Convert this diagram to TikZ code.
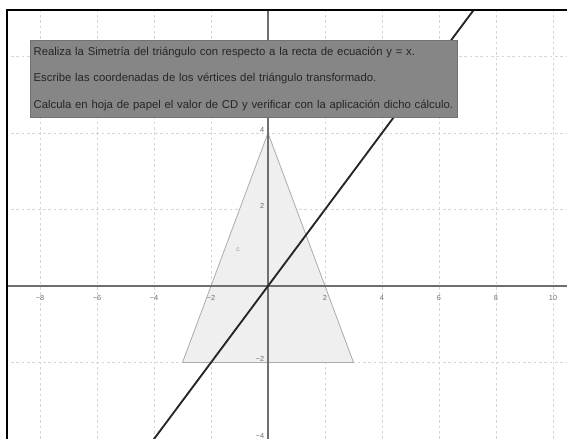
\documentclass[tikz,border=0pt]{standalone}
\usepackage{fontspec}
\setmainfont{Liberation Sans}
\usetikzlibrary{positioning,calc}
\definecolor{ink}{HTML}{262626}
\definecolor{gridgray}{HTML}{D6D6D6}
\definecolor{axisgray}{HTML}{6F6F6F}
\definecolor{boxgray}{HTML}{868686}
\definecolor{trifill}{HTML}{EFEFEF}
\definecolor{triedge}{HTML}{ABABAB}
\tikzset{
  every node/.style={text=ink},
  gridline/.style={draw=gridgray,dash pattern=on 2pt off 2pt,line width=0.5pt},
  axis/.style={draw=axisgray,line width=0.9pt},
  ticklabel/.style={font=\fontsize{5.5}{6}\selectfont,text=axisgray,inner sep=1pt},
  mirror/.style={draw=black!85,line width=1.4pt},
  tri/.style={fill=trifill,draw=triedge,line width=0.6pt},
  frame/.style={draw=black,line width=1.5pt},
  taskbox/.style={fill=boxgray,draw=boxgray!85!black,line width=0.4pt,align=left,inner xsep=2.5pt,inner ysep=0pt,
    text width=315pt,minimum height=57.7pt,font=\fontsize{8.5}{19.9}\selectfont}
}

\begin{document}
\begin{tikzpicture}[x=21.375pt,y=28.6875pt]
  \useasboundingbox (-9.404,-4.0) rectangle (10.491,7.477);
  \coordinate (fsw) at (-9.158,-4.0);
  \coordinate (fne) at (10.491,7.216);

  \begin{scope}
    \clip (fsw) rectangle (fne);
    % grid
    \foreach \gx in {-8,-6,...,10} \draw[gridline] (\gx,-4) -- (\gx,7.3);
    \foreach \gy in {-4,-2,2,4,6} \draw[gridline] (-9.2,\gy) -- (10.5,\gy);

    % triangle
    \coordinate (A) at (0,4);
    \coordinate (B) at (-3,-2);
    \coordinate (C) at (3,-2);
    \draw[tri] (A) -- (B) -- (C) -- cycle;
    \node[font=\fontsize{5}{6}\selectfont,text=black!40,inner sep=0pt] (tlabel) at (-1.05,0.94) {c};

    % axes
    \coordinate (O) at (0,0);
    \draw[axis] (-9.2,0) -- (10.5,0);
    \draw[axis] (0,-4.1) -- (0,7.3);
    \foreach \gx/\gt in {-8/−8,-6/−6,-4/−4,-2/−2,2/2,4/4,6/6,8/8,10/10}
      \node[ticklabel] (xl\gx) at (\gx,-0.31) {\gt};
    \foreach \gy/\gt in {-4/−4,-2/−2,2/2,4/4}
      \node[ticklabel,anchor=east] (yl\gy) at (-0.08,\gy+0.08) {\gt};

    % line y = x
    \coordinate (L1) at (-4.2,-4.2);
    \coordinate (L2) at (7.4,7.4);
    \draw[mirror] (L1) -- (L2);

    % task box
    \node[taskbox,anchor=north west] (task) at (-8.35,6.43)
      {Realiza la Simetría del triángulo con respecto a la recta de ecuación y = x.\\
       Escribe las coordenadas de los vértices del triángulo transformado.\\
       Calcula en hoja de papel el valor de CD y verificar con la aplicación dicho cálculo.};
  \end{scope}

  % frame
  \draw[frame] (fsw) -- (fsw |- fne) -- (fne);
\end{tikzpicture}
\end{document}
